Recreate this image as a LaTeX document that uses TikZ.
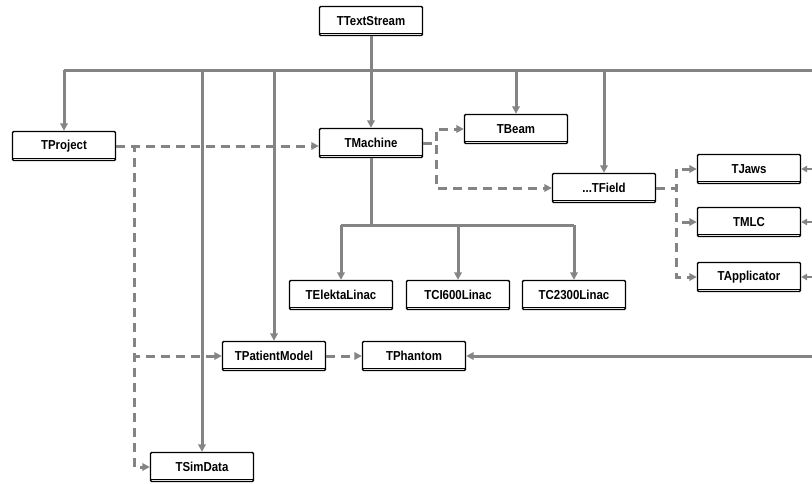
\documentclass[tikz,border=0pt]{standalone}
\usepackage{fontspec}
\newfontfamily\bxf[FakeStretch=0.88]{Liberation Sans}
\usetikzlibrary{arrows.meta}
\definecolor{conn}{RGB}{132,132,132}
\begin{document}
\begin{tikzpicture}[x=1pt,y=-1pt,
  cls/.style={draw=black, line width=1.4pt, fill=white, minimum width=103pt, minimum height=29pt,
    inner sep=0pt, rounded corners=1.2pt, font=\bxf\bfseries\fontsize{13}{15}\selectfont,
    append after command={([yshift=2.8pt,xshift=0.7pt]\tikzlastnode.south west) edge[draw=black,line width=0.8pt,-,rounded corners=0pt] ([yshift=2.8pt,xshift=-0.7pt]\tikzlastnode.south east)}},
  sline/.style={draw=conn, line width=3pt},
  sarr/.style={draw=conn, line width=3pt, -{Triangle[length=7.5pt,width=7.5pt]}},
  tarr/.style={draw=conn, line width=2.2pt, -{Triangle[length=6pt,width=6.5pt]}},
  darr/.style={draw=conn, line width=3pt, dash pattern=on 9pt off 6pt, -{Triangle[length=7.5pt,width=7.5pt]}},
]
\useasboundingbox (0,0) rectangle (812,483);

% nodes
\node[cls] (ts) at (371,21) {TTextStream};
\node[cls] (pj) at (64,146) {TProject};
\node[cls] (ma) at (371,143) {TMachine};
\node[cls] (be) at (516,129) {TBeam};
\node[cls] (fi) at (604,188) {...TField};
\node[cls] (ja) at (749,169) {TJaws};
\node[cls] (ml) at (749,222) {TMLC};
\node[cls] (ap) at (749,277) {TApplicator};
\node[cls] (el) at (341,295) {TElektaLinac};
\node[cls] (ci) at (458,295) {TCI600Linac};
\node[cls] (c2) at (574,295) {TC2300Linac};
\node[cls] (pm) at (274,356) {TPatientModel};
\node[cls] (ph) at (414,356) {TPhantom};
\node[cls] (sd) at (202,467) {TSimData};

% coordinates
\coordinate (bus) at (0,70);
\coordinate (busL) at (64,70);
\coordinate (busR) at (812,70);
\coordinate (mbus) at (371,225);
\coordinate (rJ) at (812,169);
\coordinate (rM) at (812,222);
\coordinate (rA) at (812,277);
\coordinate (rP) at (812,356);

% inheritance bus
\draw[sline] (busL) -- (busR);
\draw[sarr] (ts.south) -- (ma.north);
\draw[sarr] (pj.north |- bus) -- (pj.north);
\draw[sarr] (sd.north |- bus) -- (sd.north);
\draw[sarr] (pm.north |- bus) -- (pm.north);
\draw[sarr] (be.north |- bus) -- (be.north);
\draw[sarr] (fi.north |- bus) -- (fi.north);

% machine subclasses
\draw[sline] (ma.south) -- (mbus);
\draw[sline] (el.north |- mbus) -- (c2.north |- mbus);
\draw[sarr] (el.north |- mbus) -- (el.north);
\draw[sarr] (ci.north |- mbus) -- (ci.north);
\draw[sarr] (c2.north |- mbus) -- (c2.north);

% from right edge
\draw[tarr] (rJ) -- (ja.east);
\draw[tarr] (rM) -- (ml.east);
\draw[tarr] (rA) -- (ap.east);
\draw[sarr] (rP) -- (ph.east);

% dashed associations
\draw[darr] (pj.east) -- (pj.east -| ma.west);
\draw[darr] (pj.east) -- ++(18,0) |- (pm.west);
\draw[darr] (pj.east) -- ++(18,0) |- (sd.west);
\draw[darr] (pm.east) -- (ph.west);
\draw[darr] (ma.east) -- ++(13,0) |- (be.west);
\draw[darr] (ma.east) -- ++(13,0) |- (fi.west);
\draw[darr] (fi.east) -- ++(20,0) |- (ja.west);
\draw[darr] (fi.east) -- ++(20,0) |- (ml.west);
\draw[darr] (fi.east) -- ++(20,0) |- (ap.west);
\end{tikzpicture}
\end{document}
